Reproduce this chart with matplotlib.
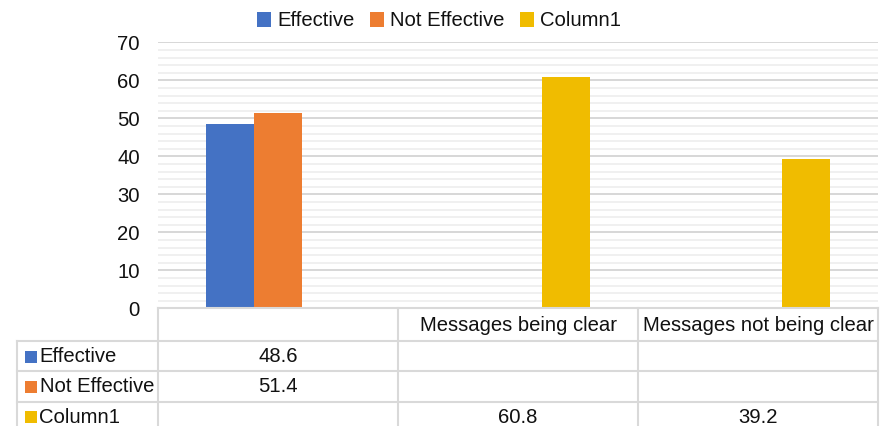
import matplotlib
matplotlib.use("Agg")
import matplotlib.pyplot as plt
from matplotlib.patches import Patch, Rectangle
from matplotlib.ticker import MultipleLocator

# ---- data -------------------------------------------------------------
categories = ["", "Messages being clear", "Messages not being clear"]
series_names = ["Effective", "Not Effective", "Column1"]
effective = [48.6, None, None]
not_effective = [51.4, None, None]
column1 = [None, 60.8, 39.2]
series_values = [effective, not_effective, column1]
colors = ["#4472C4", "#ED7D31", "#F0BC00"]
y_ticks = [0, 10, 20, 30, 40, 50, 60, 70]

# ---- figure ------------------------------------------------------------
W, H, DPI = 880, 426, 100
plt.rcParams["font.family"] = ["Liberation Sans", "DejaVu Sans"]
FS = 14.6
TXT = "#111111"
GRID_MAJOR = "#d4d4d4"
GRID_MINOR = "#ececec"
BORDER = "#d9d9d9"

fig = plt.figure(figsize=(W / DPI, H / DPI), dpi=DPI)
fig.patch.set_facecolor("white")

ax_left, ax_right = 158, 878
ax_top, ax_bottom = 42.3, 308.3
ax = fig.add_axes([ax_left / W, 1 - ax_bottom / H,
                   (ax_right - ax_left) / W, (ax_bottom - ax_top) / H])

n_cat = len(categories)
n_ser = len(series_names)
bar_w = 0.2
for j, (vals, col) in enumerate(zip(series_values, colors)):
    xs = [i + (j - (n_ser - 1) / 2) * bar_w for i, v in enumerate(vals) if v is not None]
    hs = [v for v in vals if v is not None]
    ax.bar(xs, hs, width=bar_w, color=col, zorder=3, linewidth=0)

ax.set_xlim(-0.5, n_cat - 0.5)
ax.set_ylim(y_ticks[0], y_ticks[-1])
ax.set_yticks(y_ticks)
ax.yaxis.set_minor_locator(MultipleLocator(2))
ax.set_xticks([])
ax.tick_params(axis="y", which="both", length=0, pad=13, labelsize=FS, labelcolor=TXT)
ax.grid(axis="y", which="major", color=GRID_MAJOR, linewidth=1.3, zorder=0)
ax.grid(axis="y", which="minor", color=GRID_MINOR, linewidth=1.1, zorder=0)
for s in ax.spines.values():
    s.set_visible(False)

# ---- legend ------------------------------------------------------------
handles = [Patch(facecolor=c, edgecolor="none", label=n) for n, c in zip(series_names, colors)]
fig.legend(handles=handles, loc="center", bbox_to_anchor=(439 / W, 1 - 21 / H),
           ncol=3, frameon=False, fontsize=FS, handlelength=0.7, handleheight=0.7,
           handletextpad=0.3, columnspacing=0.75, labelcolor=TXT)

# ---- data table (pixel coordinates overlay) ---------------------------
tax = fig.add_axes([0, 0, 1, 1], zorder=5)
tax.set_xlim(0, W)
tax.set_ylim(H, 0)
tax.axis("off")

cat_w = (ax_right - ax_left) / n_cat
col_edges = [ax_left + k * cat_w for k in range(n_cat + 1)]
label_left = 17
header_top = ax_bottom - 0.6
header_bottom = header_top + 33.5
row_h = 30.2
row_edges = [header_bottom + k * row_h for k in range(n_ser + 1)]
lw = 1.5

# header row border
tax.plot([col_edges[0], col_edges[-1]], [header_top, header_top], color=BORDER, lw=lw)
for x in col_edges:
    tax.plot([x, x], [header_top, H + 5], color=BORDER, lw=lw)
tax.plot([label_left, label_left], [header_bottom, H + 5], color=BORDER, lw=lw)
for y in row_edges:
    tax.plot([label_left, col_edges[-1]], [y, y], color=BORDER, lw=lw)

# category headers
for i, c in enumerate(categories):
    cx = (col_edges[i] + col_edges[i + 1]) / 2
    tax.text(cx, (header_top + header_bottom) / 2 + 1, c, ha="center", va="center",
             fontsize=FS, color=TXT)

# series rows
for j, (name, vals, col) in enumerate(zip(series_names, series_values, colors)):
    cy = (row_edges[j] + row_edges[j + 1]) / 2 + 0.5
    tax.add_patch(Rectangle((25, cy - 6), 12, 12, facecolor=col, edgecolor="none"))
    tax.text(39.5, cy, name, ha="left", va="center", fontsize=FS, color=TXT)
    for i, v in enumerate(vals):
        if v is None:
            continue
        cx = (col_edges[i] + col_edges[i + 1]) / 2
        tax.text(cx, cy, f"{v:.1f}", ha="center", va="center", fontsize=FS, color=TXT)

fig.savefig("out.png", dpi=DPI, facecolor="white")
